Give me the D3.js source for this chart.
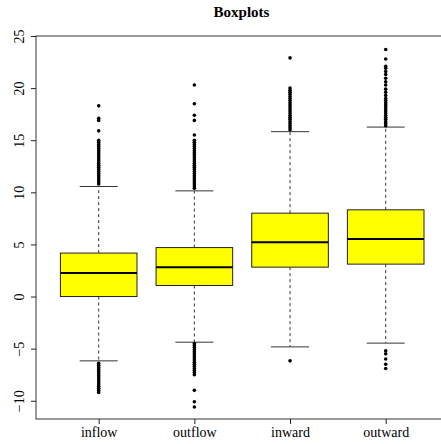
<!DOCTYPE html>
<html lang="en">
<head>
	<title>Boxplots</title>
	<script src="https://d3js.org/d3.v7.min.js" charset="utf-8"></script>
	<style>
		body { margin: 0; background: #fff; }
		.axis text { font-family: "Liberation Serif", "DejaVu Serif", serif; font-size: 14px; fill: #000; }
		.axis line { stroke: #222; }
	</style>
</head>
<body>
	<script>
		// categories and the five box numbers
		var groups = ["inflow", "outflow", "inward", "outward"];
		var whiskerLow  = [-6.17, -4.38, -4.83, -4.47];
		var q1          = [ 0.00,  1.06,  2.82,  3.11];
		var medians     = [ 2.25,  2.82,  5.22,  5.51];
		var q3          = [ 4.17,  4.70,  8.00,  8.32];
		var whiskerHigh = [10.56, 10.14, 15.82, 16.26];

		// outliers, per group
		var inflowOut = [18.3, 17.1, 16.9, 15.9, 15.0, 14.8, 14.6, 14.4, 14.2, 14.0, 13.8, 13.6, 13.4, 13.2,
			13.0, 12.8, 12.6, 12.4, 12.2, 12.0, 11.8, 11.6, 11.4, 11.2, 11.0, 10.8,
			-6.4, -6.6, -6.8, -7.0, -7.2, -7.4, -7.6, -7.8, -8.0, -8.2, -8.4, -8.6, -8.8, -9.0, -9.2];
		var outflowOut = [20.3, 18.5, 17.4, 16.9, 15.5, 15.0, 14.8, 14.6, 14.4, 14.2, 14.0, 13.8, 13.6, 13.4,
			13.2, 13.0, 12.8, 12.6, 12.4, 12.2, 12.0, 11.8, 11.6, 11.4, 11.2, 11.0, 10.8, 10.6, 10.4,
			-4.5, -4.7, -4.9, -5.1, -5.3, -5.5, -5.7, -5.9, -6.1, -6.3, -6.5, -6.7, -6.9, -7.1, -7.3, -7.5,
			-9.0, -10.1, -10.6];
		var inwardOut = [22.9, 20.0, 19.8, 19.6, 19.4, 19.2, 19.0, 18.8, 18.6, 18.4, 18.2, 18.0, 17.8, 17.6,
			17.4, 17.2, 17.0, 16.8, 16.6, 16.4, 16.2, 16.0, -6.17];
		var outwardOut = [23.7, 22.8, 22.1, 21.9, 21.6, 21.3, 20.95, 20.6, 20.3, 19.9, 19.6, 19.3, 19.0,
			18.8, 18.6, 18.4, 18.2, 18.0, 17.8, 17.6, 17.4, 17.2, 17.0, 16.8, 16.6, 16.4,
			-5.2, -5.5, -6.0, -6.5, -6.9];
		var outliers = [inflowOut, outflowOut, inwardOut, outwardOut];

		var yTicks = [-10, -5, 0, 5, 10, 15, 20, 25];

		var w = 441;
		var h = 444;
		var mLeft = 36, mRight = 447, mTop = 36, mBottom = 419;

		var svg = d3.select("body")
			.append("svg")
			.attr("width", w)
			.attr("height", h);

		var xScale = d3.scalePoint()
			.domain(groups)
			.range([98.7, 385.7]);

		var yScale = d3.scaleLinear()
			.domain([-11.75, 25])
			.range([mBottom, mTop]);

		var boxHalf = 38.3;
		var capHalf = 19;

		var data = groups.map(function(g, i){
			return {name: g, lo: whiskerLow[i], q1: q1[i], med: medians[i], q3: q3[i], hi: whiskerHigh[i], out: outliers[i]};
		});

		var g = svg.selectAll("g.box")
			.data(data)
			.enter()
			.append("g")
			.attr("class", "box")
			.attr("transform", function(d){ return "translate(" + xScale(d.name) + ",0)"; });

		// whiskers (dashed)
		g.append("line")
			.attr("y1", function(d){ return yScale(d.q3); })
			.attr("y2", function(d){ return yScale(d.hi); })
			.attr("stroke", "#333").attr("stroke-dasharray", "3,3");
		g.append("line")
			.attr("y1", function(d){ return yScale(d.q1); })
			.attr("y2", function(d){ return yScale(d.lo); })
			.attr("stroke", "#333").attr("stroke-dasharray", "3,3");

		// caps
		g.append("line")
			.attr("x1", -capHalf).attr("x2", capHalf)
			.attr("y1", function(d){ return yScale(d.hi); })
			.attr("y2", function(d){ return yScale(d.hi); })
			.attr("stroke", "#333");
		g.append("line")
			.attr("x1", -capHalf).attr("x2", capHalf)
			.attr("y1", function(d){ return yScale(d.lo); })
			.attr("y2", function(d){ return yScale(d.lo); })
			.attr("stroke", "#333");

		// boxes
		g.append("rect")
			.attr("x", -boxHalf)
			.attr("width", 2 * boxHalf)
			.attr("y", function(d){ return yScale(d.q3); })
			.attr("height", function(d){ return yScale(d.q1) - yScale(d.q3); })
			.attr("fill", "#ffff00")
			.attr("stroke", "#222");

		// medians
		g.append("line")
			.attr("x1", -boxHalf).attr("x2", boxHalf)
			.attr("y1", function(d){ return yScale(d.med); })
			.attr("y2", function(d){ return yScale(d.med); })
			.attr("stroke", "#000").attr("stroke-width", 2);

		// outlier points
		g.selectAll("circle")
			.data(function(d){ return d.out; })
			.enter()
			.append("circle")
			.attr("cx", 0)
			.attr("cy", function(v){ return yScale(v); })
			.attr("r", 1.8)
			.attr("fill", "#000");

		// frame
		svg.append("rect")
			.attr("x", mLeft).attr("y", mTop)
			.attr("width", mRight - mLeft).attr("height", mBottom - mTop)
			.attr("fill", "none").attr("stroke", "#333");

		// y axis
		var yAxis = d3.axisLeft(yScale)
			.tickValues(yTicks)
			.tickSize(5)
			.tickFormat(function(v){ return String(v).replace("-", "\u2212"); });

		var ya = svg.append("g")
			.attr("class", "axis")
			.attr("transform", "translate(" + mLeft + ",0)")
			.call(yAxis);
		ya.select(".domain").remove();
		ya.selectAll("text")
			.attr("x", 0).attr("dy", 0)
			.attr("text-anchor", "middle")
			.attr("transform", "translate(-12,0) rotate(-90)");

		// x axis
		var xAxis = d3.axisBottom(xScale).tickSize(5).tickPadding(3);
		var xa = svg.append("g")
			.attr("class", "axis")
			.attr("transform", "translate(0," + mBottom + ")")
			.call(xAxis);
		xa.select(".domain").remove();

		// title
		svg.append("text")
			.attr("text-anchor", "middle")
			.attr("x", (mLeft + mRight) / 2)
			.attr("y", 17)
			.attr("font-family", "'Liberation Serif', serif")
			.attr("font-weight", "bold")
			.attr("font-size", "15")
			.text("Boxplots");
	</script>
</body>
</html>
